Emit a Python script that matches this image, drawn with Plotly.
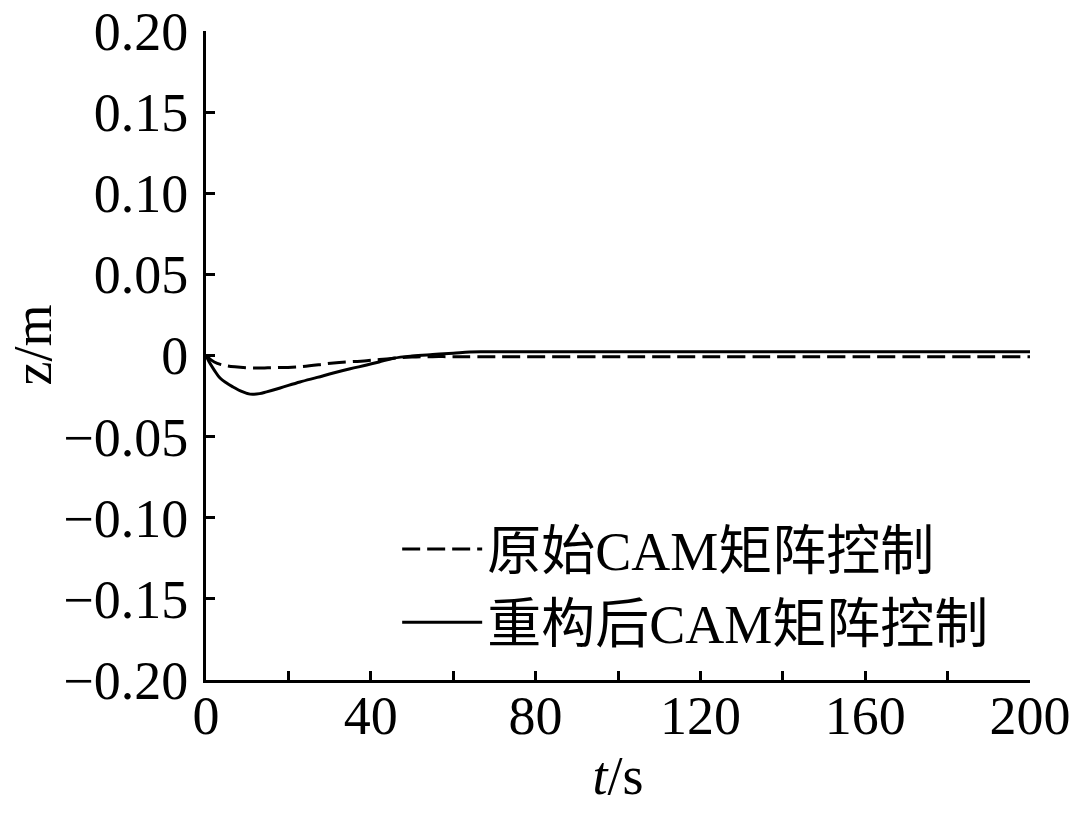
import plotly.graph_objects as go

# Data
t_orig = [0, 2, 4, 7, 10.7, 15, 22.8, 31, 39, 45, 50, 55, 60, 200]
z_orig = [0, -0.0040, -0.0058, -0.0070, -0.0077, -0.0076, -0.0069, -0.0046,
          -0.0032, -0.0018, -0.0010, -0.0007, -0.0007, -0.0007]

t_recon = [0, 1, 2, 3.4, 5, 6.6, 8.5, 10.7, 13, 14.7, 18, 22.8, 27, 30.9, 35,
           39, 42, 45.5, 50, 55, 60, 64, 70, 200]
z_recon = [0, -0.0050, -0.0090, -0.0139, -0.0170, -0.0194, -0.0220, -0.0238,
           -0.0235, -0.0224, -0.0200, -0.0163, -0.0135, -0.0108, -0.0082,
           -0.0059, -0.0040, -0.0017, -0.0003, 0.0006, 0.0014, 0.0022,
           0.0023, 0.0023]

names = ["原始CAM矩阵控制", "重构后CAM矩阵控制"]

x_tickvals = [0, 20, 40, 60, 80, 100, 120, 140, 160, 180, 200]
x_ticktext = ["0", "", "40", "", "80", "", "120", "", "160", "", "200"]
y_tickvals = [-0.20, -0.15, -0.10, -0.05, 0, 0.05, 0.10, 0.15, 0.20]
y_ticktext = ["\u22120.20", "\u22120.15", "\u22120.10", "\u22120.05", "0",
              "0.05", "0.10", "0.15", "0.20"]

FONT = "Liberation Serif"
LEGEND_FONT = "Liberation Serif, Noto Sans CJK SC, serif"

fig = go.Figure()
fig.add_trace(go.Scatter(x=t_orig, y=z_orig, mode="lines", name=names[0],
                         line=dict(color="black", width=3, dash="18px,7px", shape="spline")))
fig.add_trace(go.Scatter(x=t_recon, y=z_recon, mode="lines", name=names[1],
                         line=dict(color="black", width=3, shape="spline")))

axis_common = dict(showgrid=False, zeroline=False, showline=True, linecolor="black",
                   linewidth=3, ticks="inside", ticklen=9, tickwidth=2.5,
                   tickcolor="black", mirror=False, automargin=False,
                   ticklabeloverflow="allow",
                   tickfont=dict(family=FONT, size=54, color="black"))

fig.update_xaxes(range=[0, 200], tickmode="array", tickvals=x_tickvals,
                 ticktext=x_ticktext, ticklabelstandoff=-14,
                 title=dict(text="<i>t</i>/s", font=dict(family=FONT, size=54, color="black"),
                            standoff=12),
                 **axis_common)
fig.update_yaxes(range=[-0.20, 0.20], tickmode="array", tickvals=y_tickvals,
                 ticktext=y_ticktext, ticklabelstandoff=4,
                 **axis_common)

fig.add_annotation(text="z/m", xref="paper", yref="paper", x=0, y=0.5,
                   xanchor="center", yanchor="middle", xshift=-174, yshift=10,
                   textangle=-90, showarrow=False,
                   font=dict(family=FONT, size=54, color="black"))

fig.update_layout(
    width=1080, height=816,
    margin=dict(l=206, r=50, t=31, b=136),
    plot_bgcolor="white", paper_bgcolor="white",
    showlegend=True,
    legend=dict(x=0.232, y=0.024, xanchor="left", yanchor="bottom",
                bgcolor="rgba(0,0,0,0)", borderwidth=0,
                font=dict(family=LEGEND_FONT, size=54, color="black"),
                itemwidth=80, tracegroupgap=0),
)

fig.write_html("out.html", config={"displayModeBar": False},
               post_script="document.body.style.margin='0';document.body.style.overflow='hidden';")
